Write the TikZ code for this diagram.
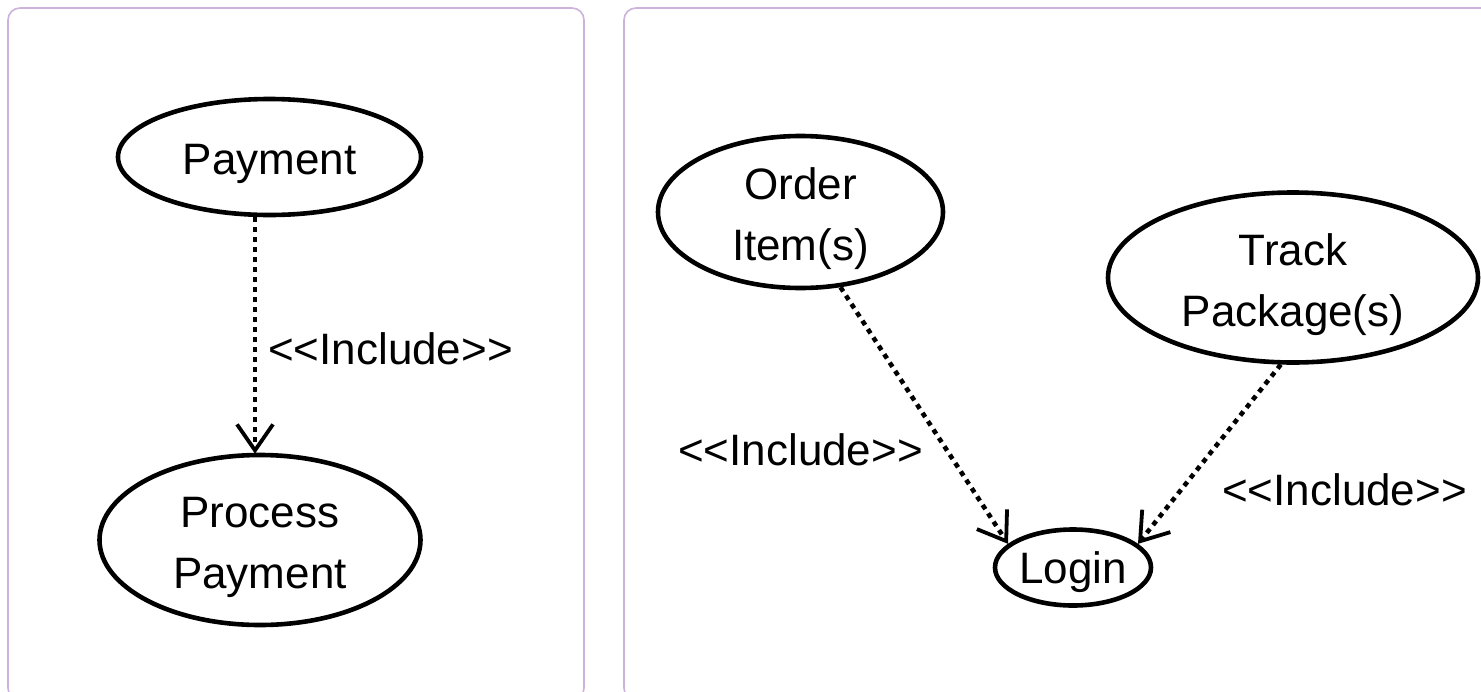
\documentclass[tikz,border=0pt]{standalone}
\usepackage{fontspec}
\setmainfont{Liberation Sans}[Ligatures=ResetAll]
\usetikzlibrary{shapes.geometric,arrows.meta}
\definecolor{panel}{HTML}{CDB2DC}
\begin{document}
\begin{tikzpicture}[x=1pt,y=-1pt,
  usecase/.style={ellipse,draw=black,line width=4.6pt,inner sep=0pt},
  uctext/.style={align=center,inner sep=0pt,yshift=-7pt,
    font=\fontsize{44}{61}\selectfont},
  lbl/.style={font=\fontsize{44}{61}\selectfont,inner sep=0pt},
  incl/.style={line width=4.6pt,dash pattern=on 5pt off 5pt,
    -{Straight Barb[length=26pt,width=36pt,line width=3.8pt]}},
  panelbox/.style={draw=panel,line width=1.6pt,rounded corners=12pt}]
\useasboundingbox (0,0) rectangle (1481,691);
\clip (0,0) rectangle (1481,691);
\fill[white] (0,0) rectangle (1481,691);
\draw[panelbox] (8,8) rectangle (584,700);
\draw[panelbox] (624,8) rectangle (1500,700);

\node[usecase,minimum width=303pt,minimum height=116pt,
  label={[uctext]center:Payment}] (pay) at (269.5,157) {};
\node[usecase,minimum width=321pt,minimum height=170pt,
  label={[uctext]center:Process\\Payment}] (proc) at (260,540) {};
\draw[incl] ([xshift=-14.5pt]pay.south) -- ([xshift=-5pt,yshift=-1pt]proc.north);
\node[lbl,anchor=west] (l1) at (268,349) {<{}<Include>{}>};

\node[usecase,minimum width=285pt,minimum height=152pt,
  label={[uctext]center:Order\\Item(s)}] (order) at (800.5,212) {};
\node[usecase,minimum width=370pt,minimum height=170pt,
  label={[uctext]center:Track\\Package(s)}] (track) at (1293,277.5) {};
\node[usecase,minimum width=156pt,minimum height=76pt,
  label={[uctext,yshift=2pt]center:Login}] (login) at (1073,567.5) {};
\draw[incl] (order.-62) -- (login.160);
\draw[incl] (track.-98) -- (login.20);
\node[lbl,anchor=west] (l2) at (678,450) {<{}<Include>{}>};
\node[lbl,anchor=west] (l3) at (1222,490) {<{}<Include>{}>};
\end{tikzpicture}
\end{document}
